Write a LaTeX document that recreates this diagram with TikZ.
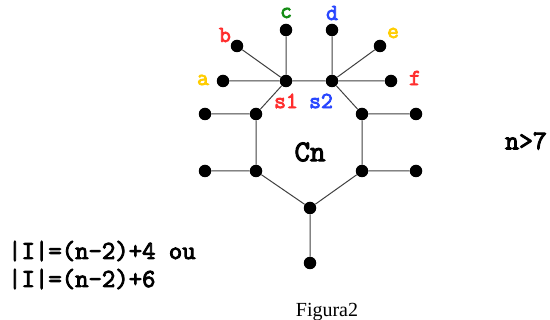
\documentclass[tikz,border=0pt]{standalone}
\usepackage{fontspec}
\setmainfont{Liberation Serif}
\newfontfamily\cour{Latin Modern Mono}[AutoFakeBold=3.5]
\definecolor{cred}{RGB}{255,45,45}
\definecolor{cyel}{RGB}{255,205,0}
\definecolor{cgreen}{RGB}{20,140,20}
\definecolor{cblue}{RGB}{40,70,255}
\tikzset{
  dot/.style={circle,fill=black,inner sep=0pt,minimum size=12.5pt},
  edge/.style={draw=black!75,line width=1pt},
  lbl/.style={font=\cour\bfseries\fontsize{23}{27}\selectfont,inner sep=0pt},
  big/.style={font=\cour\bfseries\fontsize{26}{30}\selectfont,inner sep=0pt},
}
\begin{document}
\begin{tikzpicture}[x=1pt,y=-1pt]
\useasboundingbox (0,0) rectangle (550,320);
% nodes
\node[dot] (s1) at (286,81) {};
\node[dot] (s2) at (332,81) {};
\node[dot] (a) at (223,81) {};
\node[dot] (b) at (237,46) {};
\node[dot] (c) at (286,30) {};
\node[dot] (d) at (332,30) {};
\node[dot] (e) at (380,46) {};
\node[dot] (f) at (391,81) {};
\node[dot] (l1) at (256,114) {};
\node[dot] (l2) at (256,171) {};
\node[dot] (r1) at (362,114) {};
\node[dot] (r2) at (362,171) {};
\node[dot] (bt) at (310,208) {};
\node[dot] (bp) at (310,263) {};
\node[dot] (pl1) at (205,114) {};
\node[dot] (pl2) at (205,171) {};
\node[dot] (pr1) at (416,114) {};
\node[dot] (pr2) at (416,171) {};
% edges
\draw[edge] (a) -- (s1) (b) -- (s1) (c) -- (s1) (s1) -- (s2)
  (d) -- (s2) (e) -- (s2) (f) -- (s2)
  (s1) -- (l1) -- (l2) -- (bt) -- (r2) -- (r1) -- (s2)
  (l1) -- (pl1) (l2) -- (pl2) (r1) -- (pr1) (r2) -- (pr2) (bt) -- (bp);
% labels
\node[lbl,text=cyel] (la) at (203,80) {a};
\node[lbl,text=cred] (lb) at (225,35) {b};
\node[lbl,text=cgreen] (lc) at (286,13) {c};
\node[lbl,text=cblue] (ld) at (332,13) {d};
\node[lbl,text=cyel] (le) at (393,33) {e};
\node[lbl,text=cred] (lf) at (415,78) {f};
\node[lbl,text=cred] (ls1) at (286,101) {s1};
\node[lbl,text=cblue] (ls2) at (321,101) {s2};
\node[font=\cour\bfseries\fontsize{30}{34}\selectfont,inner sep=0pt] (cn) at (310,152) {Cn};
\node[font=\cour\bfseries\fontsize{27}{31}\selectfont,inner sep=0pt] (n7) at (526,141) {n>7};
\node[big,anchor=base west] (t1) at (8,259) {|I|=(n-2)+4 ou};
\node[big,anchor=base west] (t2) at (8,287) {|I|=(n-2)+6};
\node[font=\fontsize{20}{24}\selectfont,inner sep=0pt,anchor=base] (fig) at (327,317) {Figura2};
\end{tikzpicture}
\end{document}
